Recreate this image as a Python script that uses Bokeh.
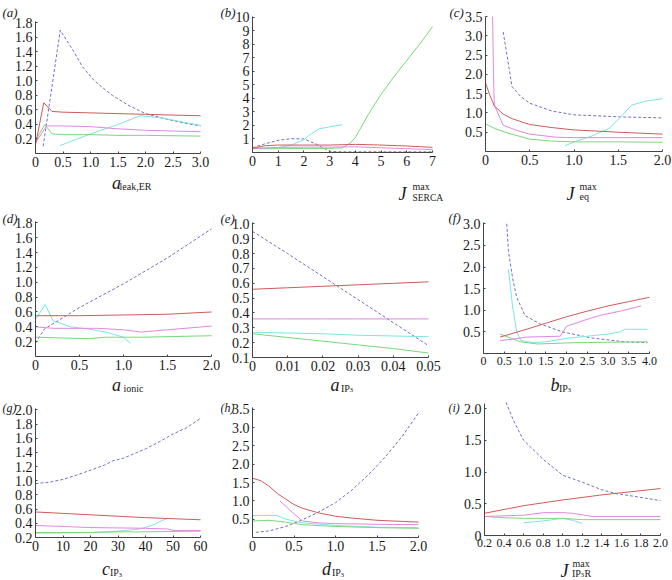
from bokeh.plotting import figure
from bokeh.models import Range1d, FixedTicker, CustomJSTickFormatter, Label
from bokeh.layouts import row, column
from bokeh.embed import file_html
from bokeh.resources import INLINE

# ---------------- data ----------------
# (a) a_leak,ER
A_BLU_X = [0.14, 0.45, 0.6, 0.7, 0.85, 1.05, 1.2, 1.4, 1.7, 2.0, 2.4, 2.7, 3.0]
A_BLU_Y = [0.10, 1.70, 1.52, 1.40, 1.20, 1.02, 0.92, 0.80, 0.66, 0.55, 0.47, 0.42, 0.38]
A_RED_X = [0, 0.15, 0.3, 0.5, 1.0, 1.5, 2.0, 2.5, 3.0]
A_RED_Y = [0.12, 0.70, 0.58, 0.57, 0.56, 0.55, 0.54, 0.53, 0.52]
A_MAG_X = [0, 0.2, 0.5, 1.0, 1.5, 2.0, 2.5, 3.0]
A_MAG_Y = [0.15, 0.38, 0.38, 0.37, 0.34, 0.32, 0.31, 0.30]
A_GRN_X = [0, 0.17, 0.3, 0.5, 1.0, 1.5, 2.0, 3.0]
A_GRN_Y = [0.18, 0.40, 0.27, 0.26, 0.26, 0.25, 0.25, 0.24]
A_CYN_X = [0.45, 1.0, 1.5, 1.9, 2.3, 2.7, 3.0]
A_CYN_Y = [0.11, 0.27, 0.40, 0.52, 0.49, 0.43, 0.39]

# (b) J_SERCA^max
B_GRN_X = [0, 1, 2, 3, 3.5, 3.8, 4.0, 4.5, 5.0, 5.5, 6.0, 6.5, 7.0]
B_GRN_Y = [0.28, 0.28, 0.3, 0.3, 0.35, 0.7, 1.1, 2.8, 4.3, 5.6, 6.8, 8.0, 9.3]
B_CYN_X = [0, 0.5, 1.0, 1.5, 2.0, 2.3, 2.6, 3.0, 3.5]
B_CYN_Y = [0.3, 0.3, 0.35, 0.55, 0.95, 1.4, 1.75, 1.9, 2.05]
B_BLU_X = [0, 0.5, 1.0, 1.5, 2.0, 2.5, 3.0, 3.5, 5, 7]
B_BLU_Y = [0.35, 0.65, 0.9, 1.02, 1.0, 0.6, 0.08, 0.05, 0.05, 0.05]
B_RED_X = [0, 0.5, 1, 2, 3, 4, 5, 6, 7]
B_RED_Y = [0.32, 0.5, 0.55, 0.55, 0.55, 0.6, 0.55, 0.48, 0.38]
B_MAG_X = [0, 1, 2, 3, 4, 5, 6, 7]
B_MAG_Y = [0.3, 0.38, 0.4, 0.4, 0.42, 0.35, 0.28, 0.22]

# (c) J_eq^max
C_RED_X = [0, 0.05, 0.1, 0.2, 0.3, 0.5, 0.75, 1.0, 1.5, 2.0]
C_RED_Y = [1.78, 1.45, 1.18, 0.97, 0.85, 0.70, 0.62, 0.56, 0.50, 0.45]
C_MAG_X = [0.08, 0.09, 0.1, 0.2, 0.35, 0.5, 0.8, 1.0, 1.5, 2.0]
C_MAG_Y = [3.5, 2.0, 1.2, 0.68, 0.55, 0.45, 0.37, 0.36, 0.36, 0.36]
C_BLU_X = [0.2, 0.3, 0.4, 0.5, 0.75, 1.0, 1.5, 2.0]
C_BLU_Y = [3.1, 1.68, 1.42, 1.25, 1.05, 0.95, 0.9, 0.87]
C_CYN_X = [0.9, 1.0, 1.2, 1.4, 1.55, 1.65, 1.8, 2.0]
C_CYN_Y = [0.15, 0.25, 0.4, 0.6, 0.95, 1.2, 1.3, 1.37]
C_GRN_X = [0, 0.1, 0.25, 0.5, 0.75, 1.0, 1.5, 2.0]
C_GRN_Y = [0.72, 0.6, 0.48, 0.32, 0.27, 0.25, 0.25, 0.24]

# (d) a_ionic
D_BLU_X = [0, 0.1, 0.5, 1.0, 1.5, 2.0]
D_BLU_Y = [0.18, 0.37, 0.66, 0.98, 1.33, 1.72]
D_RED_X = [0, 0.5, 1.0, 1.5, 2.0]
D_RED_Y = [0.55, 0.55, 0.56, 0.57, 0.6]
D_MAG_X = [0, 0.2, 0.7, 1.0, 1.2, 1.5, 2.0]
D_MAG_Y = [0.4, 0.38, 0.38, 0.36, 0.33, 0.36, 0.41]
D_GRN_X = [0, 0.3, 0.6, 0.8, 1.2, 2.0]
D_GRN_Y = [0.26, 0.25, 0.24, 0.26, 0.26, 0.28]
D_CYN_X = [0, 0.11, 0.2, 0.4, 0.6, 0.8, 1.0, 1.08]
D_CYN_Y = [0.5, 0.7, 0.48, 0.4, 0.37, 0.33, 0.26, 0.18]

# (e) a_IP3
E_X = [0, 0.01, 0.02, 0.03, 0.04, 0.05]
E_BLU_Y = [0.95, 0.80, 0.645, 0.49, 0.335, 0.18]
E_RED_Y = [0.56, 0.57, 0.58, 0.59, 0.60, 0.61]
E_MAG_Y = [0.36, 0.36, 0.36, 0.36, 0.36, 0.36]
E_CYN_Y = [0.27, 0.265, 0.26, 0.25, 0.245, 0.24]
E_GRN_Y = [0.26, 0.235, 0.21, 0.185, 0.16, 0.13]

# (f) b_IP3
F_BLU_X = [0.56, 0.6, 0.7, 0.8, 1.0, 1.35, 1.9, 2.6, 3.4, 3.95]
F_BLU_Y = [3.0, 2.38, 1.75, 1.3, 0.88, 0.69, 0.5, 0.36, 0.27, 0.25]
F_CYN_X = [0.6, 0.7, 0.8, 0.9, 1.2, 1.5, 2.0, 2.5, 3.0, 3.3, 3.4, 3.95]
F_CYN_Y = [1.95, 1.1, 0.5, 0.3, 0.25, 0.27, 0.35, 0.4, 0.45, 0.5, 0.56, 0.56]
F_RED_X = [0.4, 1.0, 1.5, 2.0, 2.5, 3.0, 3.5, 4.0]
F_RED_Y = [0.38, 0.55, 0.7, 0.85, 0.98, 1.1, 1.2, 1.3]
F_MAG_X = [0.4, 0.7, 1.05, 1.85, 2.0, 2.4, 2.8, 3.3, 3.8]
F_MAG_Y = [0.3, 0.33, 0.38, 0.4, 0.63, 0.76, 0.88, 0.98, 1.1]
F_GRN_X = [0.4, 0.89, 1.3, 2.2, 3.0, 3.95]
F_GRN_Y = [0.45, 0.27, 0.22, 0.25, 0.26, 0.27]

# (g) c_IP3
G_BLU_X = [0, 5, 10, 15, 20, 25, 28, 32, 40, 45, 50, 55, 60]
G_BLU_Y = [0.96, 0.98, 1.02, 1.08, 1.15, 1.22, 1.28, 1.32, 1.45, 1.55, 1.66, 1.75, 1.88]
G_RED_X = [0, 20, 40, 60]
G_RED_Y = [0.56, 0.52, 0.48, 0.45]
G_MAG_X = [0, 20, 40, 48, 50, 60]
G_MAG_Y = [0.37, 0.34, 0.33, 0.32, 0.30, 0.30]
G_GRN_X = [0, 20, 30, 40, 60]
G_GRN_Y = [0.27, 0.27, 0.28, 0.28, 0.29]
G_CYN_X = [0, 20, 30, 38, 43, 46, 48]
G_CYN_Y = [0.26, 0.27, 0.29, 0.32, 0.38, 0.44, 0.47]

# (h) d_IP3
H_BLU_X = [0.04, 0.2, 0.4, 0.6, 0.8, 1.0, 1.2, 1.4, 1.6, 1.8, 2.0]
H_BLU_Y = [0.14, 0.18, 0.3, 0.48, 0.7, 0.95, 1.3, 1.72, 2.2, 2.75, 3.4]
H_RED_X = [0, 0.1, 0.2, 0.3, 0.4, 0.5, 0.6, 0.8, 1.0, 1.2, 1.5, 2.0]
H_RED_Y = [1.62, 1.55, 1.4, 1.2, 1.05, 0.9, 0.8, 0.67, 0.58, 0.53, 0.47, 0.42]
H_MAG_X = [0.33, 0.45, 0.6, 0.8, 1.0, 1.5, 2.0]
H_MAG_Y = [1.0, 0.75, 0.45, 0.4, 0.38, 0.36, 0.35]
H_CYN_X = [0, 0.3, 0.4, 0.6, 1.0, 1.5, 2.0]
H_CYN_Y = [0.6, 0.6, 0.5, 0.4, 0.33, 0.28, 0.27]
H_GRN_X = [0, 0.2, 0.4, 0.6, 1.0, 1.5, 2.0]
H_GRN_Y = [0.45, 0.47, 0.42, 0.35, 0.3, 0.27, 0.25]

# (i) J_IP3R^max
I_BLU_X = [0.42, 0.5, 0.6, 0.8, 1.0, 1.2, 1.4, 1.55, 1.8, 2.0]
I_BLU_Y = [2.1, 1.8, 1.5, 1.2, 0.95, 0.84, 0.72, 0.66, 0.6, 0.55]
I_RED_X = [0.2, 0.6, 1.0, 1.4, 2.0]
I_RED_Y = [0.35, 0.47, 0.56, 0.64, 0.74]
I_MAG_X = [0.2, 0.6, 0.8, 1.0, 1.1, 1.3, 2.0]
I_MAG_Y = [0.3, 0.32, 0.36, 0.36, 0.35, 0.3, 0.3]
I_GRN_X = [0.2, 0.4, 0.6, 1.0, 1.2, 2.0]
I_GRN_Y = [0.3, 0.28, 0.27, 0.27, 0.25, 0.25]
I_CYN_X = [0.6, 0.8, 1.0, 1.1, 1.2]
I_CYN_Y = [0.2, 0.23, 0.27, 0.24, 0.19]

# ticks
A_XT = [0, 0.5, 1.0, 1.5, 2.0, 2.5, 3.0]
A_YT = [0.2, 0.4, 0.6, 0.8, 1.0, 1.2, 1.4, 1.6, 1.8]
B_XT = [0, 1, 2, 3, 4, 5, 6, 7]
B_YT = [1, 2, 3, 4, 5, 6, 7, 8, 9, 10]
C_XT = [0, 0.5, 1.0, 1.5, 2.0]
C_YT = [0.5, 1.0, 1.5, 2.0, 2.5, 3.0, 3.5]
D_XT = [0, 0.5, 1.0, 1.5, 2.0]
D_YT = [0.2, 0.4, 0.6, 0.8, 1.0, 1.2, 1.4, 1.6, 1.8]
E_XT = [0, 0.01, 0.02, 0.03, 0.04, 0.05]
E_YT = [0.1, 0.2, 0.3, 0.4, 0.5, 0.6, 0.7, 0.8, 0.9, 1.0]
F_XT = [0, 0.5, 1.0, 1.5, 2.0, 2.5, 3.0, 3.5, 4.0]
F_YT = [0.5, 1.0, 1.5, 2.0, 2.5, 3.0]
G_XT = [0, 10, 20, 30, 40, 50, 60]
G_YT = [0.2, 0.4, 0.6, 0.8, 1.0, 1.2, 1.4, 1.6, 1.8, 2.0]
H_XT = [0, 0.5, 1.0, 1.5, 2.0]
H_YT = [0.5, 1.0, 1.5, 2.0, 2.5, 3.0, 3.5]
I_XT = [0.2, 0.4, 0.6, 0.8, 1.0, 1.2, 1.4, 1.6, 1.8, 2.0]
I_YT = [0, 0.5, 1.0, 1.5, 2.0]

# ---------------- style ----------------
RED = "#d05a5a"
BLUE = "#7272c4"
MAG = "#e088e0"
CYAN = "#7ae6e6"
GREEN = "#7ad87a"
FONT = "Liberation Serif"
AX = "#444444"
TXT = "#1a1a1a"

GEOM = {}


def fmt(d):
    return CustomJSTickFormatter(args=dict(d=d),
                                 code="return Math.abs(tick) < 1e-9 ? '0' : tick.toFixed(d);")


def make(frame, box, xr, yr, xt, yt, xd, yd, xsize="14px", ysize="14px"):
    # frame: where the data area (xr, yr) lies on the page; box: figure's page box
    fl, ft, fr, fb = frame
    bx0, by0, bx1, by1 = box
    sx = (xr[1] - xr[0]) / (fr - fl)
    sy = (yr[1] - yr[0]) / (fb - ft)
    X0 = xr[0] - (fl - bx0) * sx
    X1 = xr[1] + (bx1 - fr) * sx
    Y0 = yr[0] - (by1 - fb) * sy
    Y1 = yr[1] + (ft - by0) * sy
    p = figure(width=bx1 - bx0, height=by1 - by0,
               x_range=Range1d(X0, X1), y_range=Range1d(Y0, Y1),
               min_border=0, min_border_left=0, min_border_right=0,
               min_border_top=0, min_border_bottom=0,
               toolbar_location=None, output_backend="svg",
               outline_line_color=None, background_fill_color="white",
               border_fill_color="white")
    p.xgrid.visible = False
    p.ygrid.visible = False
    p.xaxis[0].fixed_location = yr[0]
    p.xaxis[0].bounds = (xr[0], xr[1])
    p.yaxis[0].fixed_location = xr[0]
    p.yaxis[0].bounds = (yr[0], yr[1])
    for ax, ticks, d, size in ((p.xaxis[0], xt, xd, xsize), (p.yaxis[0], yt, yd, ysize)):
        ax.ticker = FixedTicker(ticks=ticks, minor_ticks=[])
        ax.formatter = fmt(d)
        ax.axis_line_color = AX
        ax.axis_line_width = 1
        ax.major_tick_line_color = AX
        ax.major_tick_in = 2
        ax.major_tick_out = 0
        ax.minor_tick_line_color = None
        ax.major_label_text_font = FONT
        ax.major_label_text_font_size = size
        ax.major_label_text_color = TXT
        ax.major_label_standoff = 3
    GEOM[p.id] = (bx0, by1, X0, Y0)
    return p


def lines(p, series):
    for xs, ys, col in series:
        if col == BLUE:
            p.line(xs, ys, line_color=col, line_width=1, line_dash="3 2")
        else:
            p.line(xs, ys, line_color=col, line_width=1)


def txt(p, px, py, s, size, italic=False):
    bx0, by1, X0, Y0 = GEOM[p.id]
    p.add_layout(Label(x=X0, y=Y0, x_units="data", y_units="data",
                       x_offset=px - bx0, y_offset=by1 - py, text=s,
                       text_font=FONT, text_font_size=f"{size}px",
                       text_font_style="italic" if italic else "normal",
                       text_baseline="alphabetic", text_align="left",
                       text_color=TXT))


R1, R2, R3 = (0, 204), (204, 395), (395, 580)


def box(c0, c1, r):
    return (c0, r[0], c1, r[1])


pa = make((35, 21, 200, 153), box(0, 220, R1), (0, 3), (0, 1.82), A_XT, A_YT, 1, 1)
lines(pa, [(A_BLU_X, A_BLU_Y, BLUE), (A_CYN_X, A_CYN_Y, CYAN), (A_GRN_X, A_GRN_Y, GREEN),
           (A_MAG_X, A_MAG_Y, MAG), (A_RED_X, A_RED_Y, RED)])
txt(pa, 2, 12, "(a)", 13, True)
txt(pa, 111.5, 182, "a", 18, True)
txt(pa, 119, 186, "leak,ER", 10)

pb = make((252, 16, 432, 152), box(220, 449, R1), (0, 7), (0, 10.05), B_XT, B_YT, 0, 0)
lines(pb, [(B_BLU_X, B_BLU_Y, BLUE), (B_CYN_X, B_CYN_Y, CYAN), (B_GRN_X, B_GRN_Y, GREEN),
           (B_MAG_X, B_MAG_Y, MAG), (B_RED_X, B_RED_Y, RED)])
txt(pb, 220, 12, "(b)", 13, True)
txt(pb, 398, 193, "J", 18, True)
txt(pb, 412, 186, "max", 10)
txt(pb, 412, 197, "SERCA", 9.5)

pc = make((485, 16, 662, 151), box(449, 672, R1), (0, 2), (0, 3.5), C_XT, C_YT, 1, 1)
lines(pc, [(C_BLU_X, C_BLU_Y, BLUE), (C_CYN_X, C_CYN_Y, CYAN), (C_GRN_X, C_GRN_Y, GREEN),
           (C_MAG_X, C_MAG_Y, MAG), (C_RED_X, C_RED_Y, RED)])
txt(pc, 449, 12, "(c)", 13, True)
txt(pc, 566, 193, "J", 18, True)
txt(pc, 579, 186, "max", 10)
txt(pc, 579, 196, "eq", 10)

pd = make((35, 221, 211, 356), box(0, 220, R2), (0, 2), (0, 1.82), D_XT, D_YT, 1, 1)
lines(pd, [(D_BLU_X, D_BLU_Y, BLUE), (D_CYN_X, D_CYN_Y, CYAN), (D_GRN_X, D_GRN_Y, GREEN),
           (D_MAG_X, D_MAG_Y, MAG), (D_RED_X, D_RED_Y, RED)])
txt(pd, 2, 218, "(d)", 13, True)
txt(pd, 111.5, 384, "a", 18, True)
txt(pd, 123, 387.5, "ionic", 10)

pe = make((252, 222, 428, 357), box(220, 446, R2), (0, 0.05), (0.1, 1.01), E_XT, E_YT, 2, 1)
lines(pe, [(E_X, E_BLU_Y, BLUE), (E_X, E_CYN_Y, CYAN), (E_X, E_GRN_Y, GREEN),
           (E_X, E_MAG_Y, MAG), (E_X, E_RED_Y, RED)])
txt(pe, 220, 218, "(e)", 13, True)
txt(pe, 330, 384.5, "a", 18, True)
txt(pe, 340.5, 388, "IP", 10)
txt(pe, 349, 389.5, "3", 7)

pf = make((483, 222, 649, 353), box(446, 672, R2), (0, 4), (0, 3.03), F_XT, F_YT, 1, 1, xsize="12px")
lines(pf, [(F_BLU_X, F_BLU_Y, BLUE), (F_CYN_X, F_CYN_Y, CYAN), (F_GRN_X, F_GRN_Y, GREEN),
           (F_MAG_X, F_MAG_Y, MAG), (F_RED_X, F_RED_Y, RED)])
txt(pf, 448, 217, "(f)", 13, True)
txt(pf, 550, 384, "b", 18, True)
txt(pf, 558.5, 387.5, "IP", 10)
txt(pf, 567, 389, "3", 7)

pg = make((35, 408, 200, 537), box(0, 220, R3), (0, 60), (0.2, 2.02), G_XT, G_YT, 0, 1)
lines(pg, [(G_BLU_X, G_BLU_Y, BLUE), (G_CYN_X, G_CYN_Y, CYAN), (G_GRN_X, G_GRN_Y, GREEN),
           (G_MAG_X, G_MAG_Y, MAG), (G_RED_X, G_RED_Y, RED)])
txt(pg, 2, 407, "(g)", 12, True)
txt(pg, 101.5, 568, "c", 18, True)
txt(pg, 109.5, 572, "IP", 10)
txt(pg, 118, 574, "3", 7)

ph = make((252, 407, 418, 537), box(220, 446, R3), (0, 2), (0, 3.55), H_XT, H_YT, 1, 1)
lines(ph, [(H_BLU_X, H_BLU_Y, BLUE), (H_CYN_X, H_CYN_Y, CYAN), (H_GRN_X, H_GRN_Y, GREEN),
           (H_MAG_X, H_MAG_Y, MAG), (H_RED_X, H_RED_Y, RED)])
txt(ph, 220, 407, "(h)", 12, True)
txt(ph, 321.5, 568, "d", 18, True)
txt(ph, 331.5, 572, "IP", 10)
txt(ph, 340, 574, "3", 7)

pi = make((484, 403, 660, 535), box(446, 672, R3), (0.2, 2.0), (0, 2.08), I_XT, I_YT, 1, 1, xsize="12px")
lines(pi, [(I_BLU_X, I_BLU_Y, BLUE), (I_CYN_X, I_CYN_Y, CYAN), (I_GRN_X, I_GRN_Y, GREEN),
           (I_MAG_X, I_MAG_Y, MAG), (I_RED_X, I_RED_Y, RED)])
txt(pi, 448, 407, "(i)", 12, True)
txt(pi, 560, 570, "J", 18, True)
txt(pi, 572, 563, "max", 10)
txt(pi, 571.5, 573, "IP", 10)
txt(pi, 580, 574.5, "3", 7)
txt(pi, 584, 573, "R", 10)

layout = column(row(pa, pb, pc), row(pd, pe, pf), row(pg, ph, pi))
open("out.html", "w").write(file_html(layout, INLINE))
